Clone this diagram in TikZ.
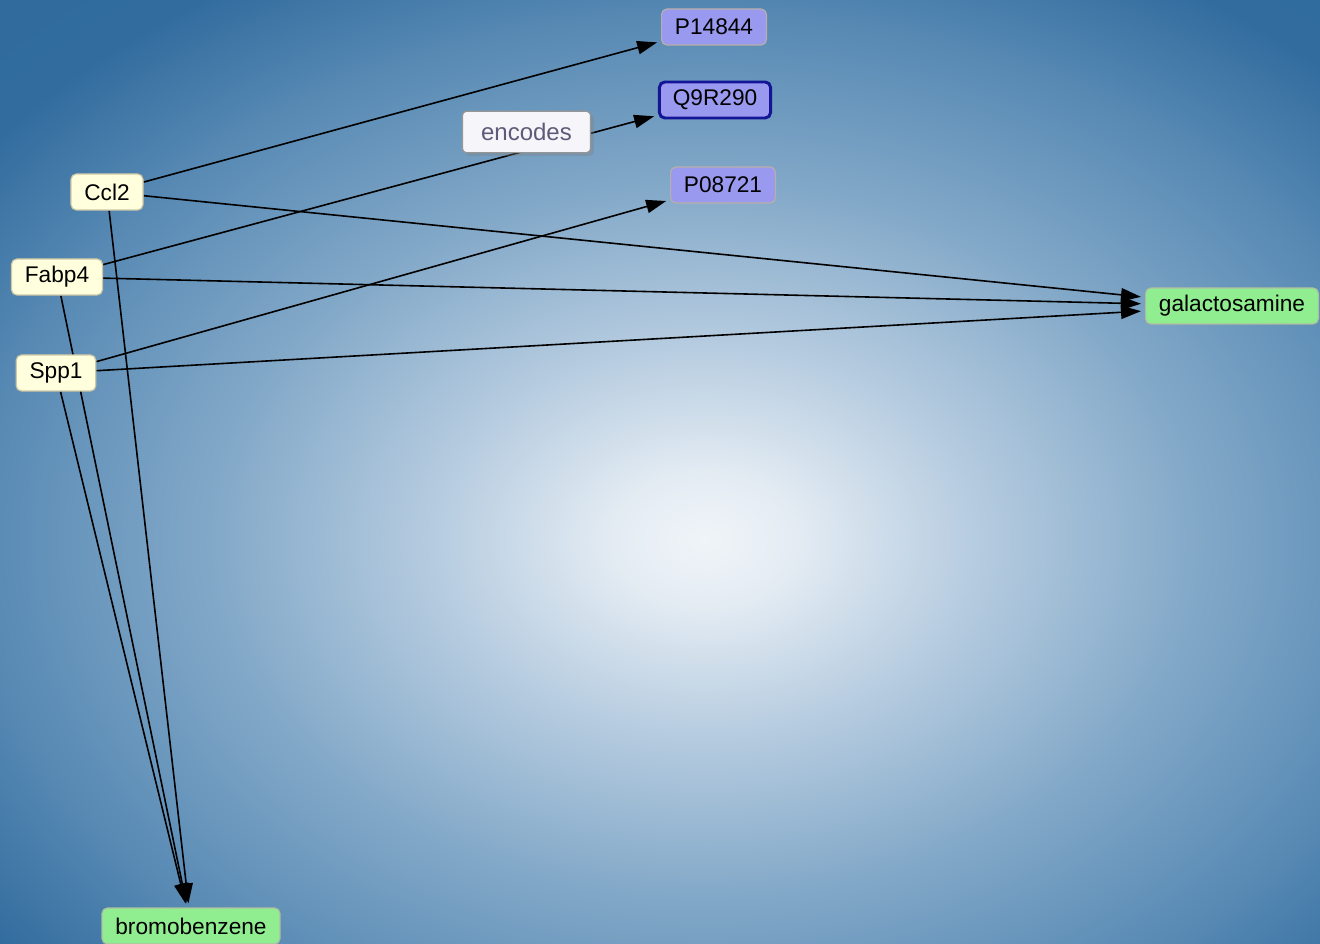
\documentclass[tikz,border=0pt]{standalone}
\usepackage{fontspec}
\setmainfont{Liberation Sans}
\usetikzlibrary{arrows.meta,shadows}

\pgfdeclareradialshading{backdrop}{\pgfpointorigin}{rgb(0bp)=(0.94,0.957,0.973); rgb(2.5bp)=(0.894,0.925,0.953); rgb(7.5bp)=(0.714,0.8,0.878); rgb(13.75bp)=(0.51,0.659,0.784); rgb(20bp)=(0.345,0.541,0.706); rgb(25bp)=(0.196,0.424,0.62); rgb(50bp)=(0.157,0.392,0.588)}
\pgfdeclarelayer{backdrop}
\pgfdeclarelayer{edges}
\pgfsetlayers{backdrop,edges,main}

\begin{document}
\begin{tikzpicture}[x=0.75pt,y=0.75pt,yscale=-1,xscale=1,
  box/.style={rounded corners=4pt,inner xsep=10pt,minimum height=27pt,font=\fontsize{17}{20}\selectfont,line width=0.9pt},
  gene/.style={box,draw={rgb, 255:red, 208; green, 200; blue, 165},fill={rgb, 255:red, 255; green, 255; blue, 221}},
  protein/.style={box,draw={rgb, 255:red, 185; green, 175; blue, 170},fill={rgb, 255:red, 153; green, 153; blue, 240}},
  chem/.style={box,draw={rgb, 255:red, 175; green, 190; blue, 160},fill={rgb, 255:red, 144; green, 238; blue, 144}},
  tag/.style={box,inner xsep=14pt,rounded corners=3pt,minimum height=31pt,font=\fontsize{18}{20}\selectfont,draw={rgb, 255:red, 150; green, 150; blue, 150},fill={rgb, 255:red, 246; green, 246; blue, 250},text={rgb, 255:red, 95; green, 90; blue, 120},drop shadow={shadow xshift=2.5pt,shadow yshift=-2.5pt,opacity=0.35}},
  link/.style={-{Triangle[length=15pt,width=10pt]},line width=1.2pt,shorten >=3pt}]

\useasboundingbox (0,0) rectangle (1320,944);
\begin{pgfonlayer}{backdrop}
\clip (0,0) rectangle (1320,944);
\shade [shading=backdrop] (-195,-110) rectangle (1605,1190);
\end{pgfonlayer}

% nodes
\node [gene] (ccl) at (107,192) {Ccl2};
\node [gene] (fabp) at (57,277) {Fabp4};
\node [gene] (spp) at (56,373) {Spp1};
\node [protein] (p14844) at (714,27) {P14844};
\node [protein,draw={rgb, 255:red, 20; green, 20; blue, 150},line width=2.2pt] (q9r290) at (715,100) {Q9R290};
\node [protein] (p08721) at (723,185) {P08721};
\node [chem] (galac) at (1232,306) {galactosamine};
\node [chem] (bromo) at (191,926) {bromobenzene};

% edges
\begin{pgfonlayer}{edges}
\draw [link] (ccl) -- (p14844);
\draw [link] (fabp) -- (q9r290) node [tag,pos=0.763,yshift=14] (enc) {encodes};
\draw [link] (spp) -- (p08721);
\draw [link] (ccl) -- (galac);
\draw [link] (fabp) -- (galac);
\draw [link] (spp) -- (galac);
\draw [link] (ccl) -- (bromo);
\draw [link] (fabp) -- (bromo);
\draw [link] (spp) -- (bromo);
\end{pgfonlayer}

\end{tikzpicture}
\end{document}
